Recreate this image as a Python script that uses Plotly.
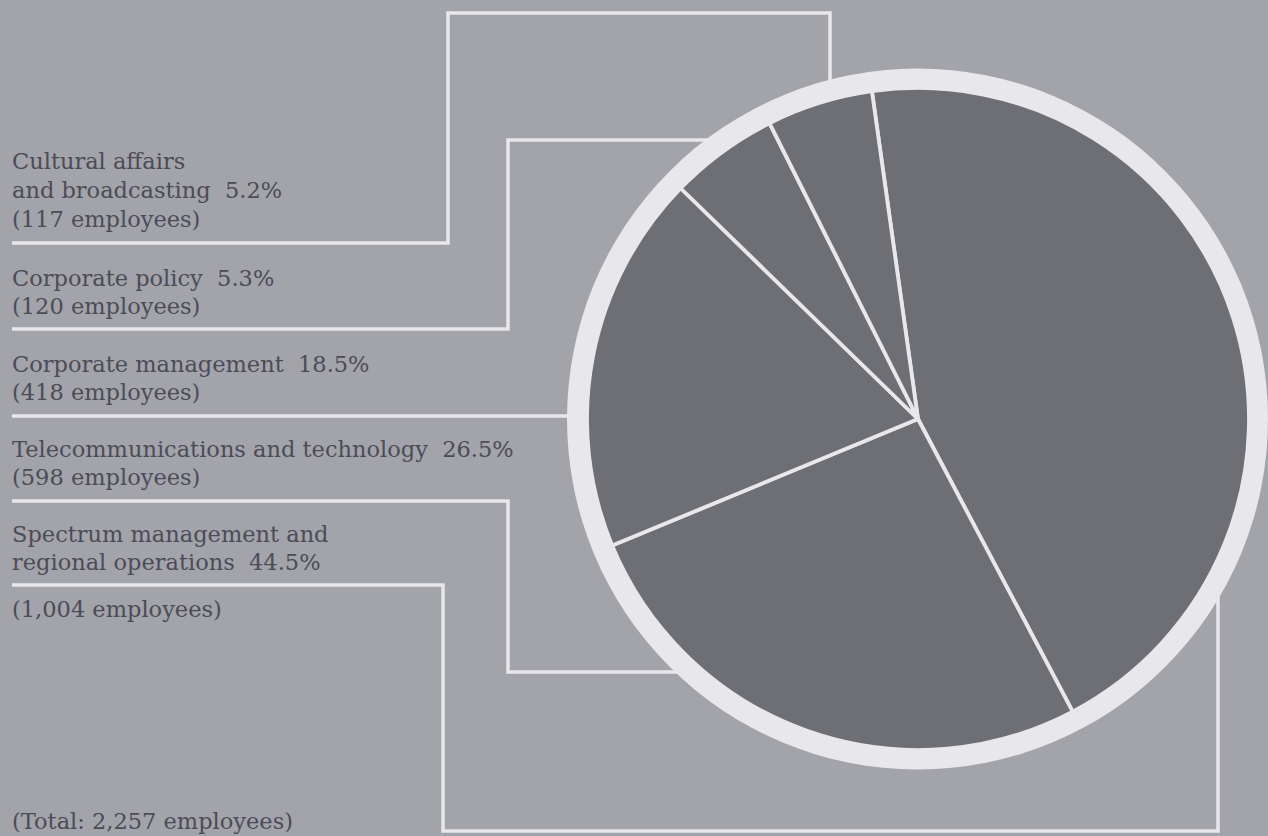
import math
import plotly.graph_objects as go

W, H = 1268, 836

# ---- data ----
categories = [
    "Spectrum management and regional operations",
    "Telecommunications and technology",
    "Corporate management",
    "Corporate policy",
    "Cultural affairs and broadcasting",
]
employees = [1004, 598, 418, 120, 117]
percents = ["44.5%", "26.5%", "18.5%", "5.3%", "5.2%"]
total_label = "(Total: 2,257 employees)"

# ---- style ----
BG = "rgb(163,163,170)"
SLICE = "rgb(110,110,117)"
RING = "rgb(232,232,235)"
TEXT = "rgb(76,76,86)"
FONT = "DejaVu Serif"
FS = 22.5

cx, cy = 918, 419        # pie centre (px from top-left)
R_OUT, R_IN = 351, 331


def px(x):
    return x / W


def py(y):
    return 1 - y / H


fig = go.Figure()

# outer ring (background disc)
ring_x0 = px(cx - R_OUT)
ring_x1 = px(cx + R_OUT) if cx + R_OUT <= W else 1.0
fig.add_trace(go.Pie(
    values=[1], marker=dict(colors=[RING], line=dict(width=0)),
    domain=dict(x=[ring_x0, ring_x1],
                y=[py(cy + R_OUT), py(cy - R_OUT)]),
    textinfo="none", hoverinfo="skip", sort=False, showlegend=False,
))

fig.add_trace(go.Pie(
    labels=categories, values=employees,
    marker=dict(colors=[SLICE] * len(employees), line=dict(color=RING, width=3.8)),
    domain=dict(x=[px(cx - R_IN), px(cx + R_IN)],
                y=[py(cy + R_IN), py(cy - R_IN)]),
    sort=False, direction="clockwise", rotation=-8,
    textinfo="none", hoverinfo="label+value", showlegend=False,
))


def ring_y(x, lower=False):
    d = math.sqrt(max(R_OUT ** 2 - (x - cx) ** 2, 0))
    return cy + d if lower else cy - d


def ring_x(y):
    return cx - math.sqrt(max(R_OUT ** 2 - (y - cy) ** 2, 0))


x0 = 12
leaders = [
    [(x0, 243), (448, 243), (448, 13), (830, 13), (830, ring_y(830) + 6)],
    [(x0, 329), (508, 329), (508, 140), (ring_x(140) + 6, 140)],
    [(x0, 416), (ring_x(416) + 6, 416)],
    [(x0, 501), (508, 501), (508, 672), (ring_x(672) + 6, 672)],
    [(x0, 585), (443, 585), (443, 831), (1218, 831), (1218, ring_y(1218, True) - 6)],
]
shapes = []
for pts in leaders:
    path = "M " + " L ".join(f"{px(x):.5f},{py(y):.5f}" for x, y in pts)
    shapes.append(dict(type="path", path=path, xref="paper", yref="paper",
                       line=dict(color=RING, width=3.5), layer="below"))

sp = "\u00a0\u00a0"
lines = [
    ("Cultural affairs", 161),
    ("and broadcasting" + sp + percents[4], 190),
    (f"({employees[4]:,} employees)", 219),
    ("Corporate policy" + sp + percents[3], 278),
    (f"({employees[3]:,} employees)", 306),
    (categories[2] + sp + percents[2], 364),
    (f"({employees[2]:,} employees)", 392),
    (categories[1] + sp + percents[1], 449),
    (f"({employees[1]:,} employees)", 477),
    ("Spectrum management and", 534),
    ("regional operations" + sp + percents[0], 562),
    (f"({employees[0]:,} employees)", 609),
    (total_label, 821),
]
annotations = [
    dict(text=t, x=px(10), y=py(y), xref="paper", yref="paper",
         xanchor="left", yanchor="middle", showarrow=False,
         font=dict(family=FONT, size=FS, color=TEXT))
    for t, y in lines
]

fig.update_layout(
    width=W, height=H, margin=dict(l=0, r=0, t=0, b=0),
    paper_bgcolor=BG, plot_bgcolor=BG,
    shapes=shapes, annotations=annotations, showlegend=False,
)

fig.write_html("out.html")
